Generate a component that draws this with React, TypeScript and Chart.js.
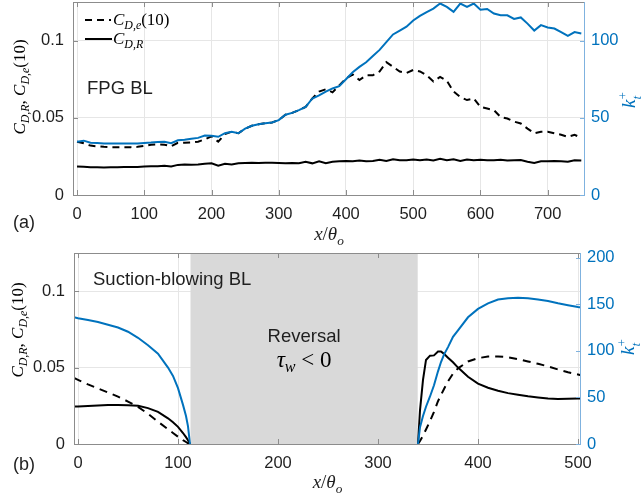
import React, { useEffect, useRef } from "react";
import { Chart, registerables } from "chart.js";
Chart.register(...registerables);

const SERIF = '"Liberation Serif", "DejaVu Serif", serif';
const SANS = '"Liberation Sans", Arial, sans-serif';
const BLUE = "#0072BD";
const TXT = "#1f1f1f";
const GRID = "#e6e6e6";
const AXIS = "#8c8c8c";
const AXIS_R = "#7fb2df";

// ---------- Panel (a): FPG BL ----------
const xA = [0, 10, 20, 30, 40, 50, 60, 70, 80, 90, 100, 110, 120, 130, 140, 150, 160, 170, 180, 190, 200, 210, 220, 230, 240, 250, 260, 270, 280, 290, 300, 310, 320, 330, 340, 350, 360, 370, 380, 390, 400, 410, 420, 430, 440, 450, 460, 470, 480, 490, 500, 510, 520, 530, 540, 550, 560, 570, 580, 590, 600, 610, 620, 630, 640, 650, 660, 670, 680, 690, 700, 710, 720, 730, 740, 750];
const ktA = [34.5, 35.2, 33.8, 33.6, 33.4, 33.4, 33.4, 33.4, 33.4, 33.4, 33.7, 34, 34.4, 34.5, 33.6, 35.4, 35.8, 36.5, 37, 38.5, 38.3, 37.7, 40, 41, 40, 43, 44.8, 45.8, 46.5, 47, 48.5, 52, 53.2, 55, 57, 62.5, 64.5, 67, 69, 70.5, 75, 79.5, 83, 86, 90, 94, 99, 104, 106.5, 109, 113, 116, 118.5, 120.7, 124, 121.8, 118.6, 124, 121.8, 124, 120, 120.5, 117.5, 116.4, 116.4, 114, 115, 111, 106.5, 110, 108.5, 107.8, 105.5, 103, 105.5, 104.6];
const cdeA = [0.0345, 0.0335, 0.032, 0.0315, 0.0312, 0.031, 0.031, 0.031, 0.031, 0.0312, 0.0318, 0.0326, 0.0328, 0.0326, 0.0315, 0.0338, 0.0338, 0.034, 0.0345, 0.036, 0.038, 0.0345, 0.0395, 0.041, 0.04, 0.043, 0.0448, 0.0458, 0.0465, 0.047, 0.0485, 0.052, 0.0532, 0.055, 0.057, 0.0625, 0.067, 0.0685, 0.0665, 0.071, 0.0755, 0.078, 0.0745, 0.0775, 0.0775, 0.08, 0.086, 0.083, 0.08, 0.079, 0.081, 0.08, 0.0775, 0.0735, 0.0765, 0.074, 0.067, 0.0635, 0.0615, 0.0625, 0.057, 0.056, 0.055, 0.0505, 0.0495, 0.0475, 0.0463, 0.043, 0.04, 0.041, 0.041, 0.04, 0.039, 0.0377, 0.039, 0.037];
const cdrA = [0.0185, 0.0183, 0.018, 0.0179, 0.0178, 0.018, 0.018, 0.0181, 0.0182, 0.0182, 0.0185, 0.0186, 0.0187, 0.019, 0.0185, 0.0195, 0.0197, 0.0196, 0.0198, 0.0203, 0.0205, 0.019, 0.0202, 0.0198, 0.0205, 0.0208, 0.0209, 0.0208, 0.0209, 0.0209, 0.0208, 0.0205, 0.0208, 0.0206, 0.0215, 0.0205, 0.0218, 0.0206, 0.0215, 0.0218, 0.022, 0.0218, 0.0223, 0.0218, 0.022, 0.0228, 0.022, 0.0232, 0.0225, 0.0225, 0.023, 0.0225, 0.023, 0.0223, 0.0235, 0.0225, 0.0232, 0.022, 0.023, 0.0225, 0.0228, 0.0225, 0.0225, 0.0228, 0.0223, 0.0225, 0.0226, 0.0215, 0.0208, 0.0218, 0.0218, 0.022, 0.0218, 0.0215, 0.0225, 0.0223];
const xTicksA = [0, 100, 200, 300, 400, 500, 600, 700];
const yTicksLeft = [0, 0.05, 0.1];
const yTicksRightA = [0, 50, 100];

// ---------- Panel (b): Suction-blowing BL ----------
const xB = [-4, 0, 10, 20, 30, 40, 50, 60, 70, 80, 90, 95, 100, 105, 108, 110, 112, 226, 340, 342, 345, 348, 352, 356, 360, 363, 366, 370, 375, 380, 390, 400, 410, 420, 430, 440, 450, 460, 470, 480, 490, 500, 503];
const ktB = [136, 135, 133, 131, 128, 125, 120.5, 114, 106, 97, 82, 73, 60, 42, 30, 19, 0, null, 0, 18, 30, 40, 51, 63, 78, 88, 96, 104, 115, 122, 136, 145, 151, 155, 156.5, 157, 156.5, 155, 153.5, 151, 149, 147, 146.5];
const cdrB = [0.0245, 0.0245, 0.0248, 0.0252, 0.0256, 0.0256, 0.0254, 0.025, 0.0235, 0.021, 0.0168, 0.0142, 0.0112, 0.0072, 0.0045, 0.0025, 0, null, 0, 0.022, 0.042, 0.055, 0.0578, 0.058, 0.0605, 0.0605, 0.059, 0.0565, 0.0535, 0.05, 0.044, 0.0395, 0.0368, 0.0348, 0.0333, 0.0322, 0.0312, 0.0305, 0.0298, 0.0295, 0.0296, 0.0298, 0.0298];
const cdeB = [0.0432, 0.042, 0.039, 0.0363, 0.0337, 0.031, 0.0278, 0.0243, 0.0198, 0.0146, 0.0097, 0.0072, 0.0048, 0.0025, 0.0013, 0.0005, 0, null, 0, 0.002, 0.0055, 0.0095, 0.015, 0.021, 0.028, 0.032, 0.036, 0.041, 0.046, 0.0495, 0.054, 0.0562, 0.0572, 0.0573, 0.0568, 0.0555, 0.054, 0.0525, 0.0508, 0.0488, 0.047, 0.0455, 0.045];
const reversalRange = [112.5, 339.7];
const xTicksB = [0, 100, 200, 300, 400, 500];
const yTicksRightB = [0, 50, 100, 150, 200];

type Seg = { t: string; it?: boolean; s?: number; dy?: number; na?: boolean };

function drawRich(ctx: CanvasRenderingContext2D, segs: Seg[], x: number, y: number, size: number, color: string, rot = 0, align: "center" | "left" = "center") {
  ctx.save();
  ctx.translate(x, y);
  ctx.rotate(rot);
  ctx.fillStyle = color;
  ctx.textBaseline = "alphabetic";
  ctx.textAlign = "left";
  const font = (sg: Seg) => `${sg.it ? "italic " : ""}${size * (sg.s ?? 1)}px ${SERIF}`;
  let W = 0;
  for (const sg of segs) {
    ctx.font = font(sg);
    if (!sg.na) W += ctx.measureText(sg.t).width;
  }
  let cx = align === "center" ? -W / 2 : 0;
  const base = size * 0.33;
  for (const sg of segs) {
    ctx.font = font(sg);
    ctx.fillText(sg.t, cx, base + (sg.dy ?? 0) * size);
    if (!sg.na) cx += ctx.measureText(sg.t).width;
  }
  ctx.restore();
}

function drawSans(ctx: CanvasRenderingContext2D, t: string, x: number, y: number, size: number, align: CanvasTextAlign = "left") {
  ctx.save();
  ctx.font = `${size}px ${SANS}`;
  ctx.fillStyle = TXT;
  ctx.textAlign = align;
  ctx.textBaseline = "middle";
  ctx.fillText(t, x, y);
  ctx.restore();
}

function drawFrame(chart: any, xt: number[], ylt: number[], yrt: number[]) {
  const { ctx, chartArea: a, scales } = chart;
  ctx.save();
  ctx.lineWidth = 1;
  ctx.setLineDash([]);
  ctx.strokeStyle = AXIS;
  ctx.beginPath();
  ctx.moveTo(a.left, a.top + 0.5);
  ctx.lineTo(a.right, a.top + 0.5);
  ctx.moveTo(a.left + 0.5, a.top);
  ctx.lineTo(a.left + 0.5, a.bottom);
  ctx.moveTo(a.left, a.bottom + 0.5);
  ctx.lineTo(a.right, a.bottom + 0.5);
  for (const v of xt) {
    const px = Math.round(scales.x.getPixelForValue(v)) + 0.5;
    ctx.moveTo(px, a.bottom);
    ctx.lineTo(px, a.bottom - 5);
    ctx.moveTo(px, a.top);
    ctx.lineTo(px, a.top + 5);
  }
  for (const v of ylt) {
    const py = Math.round(scales.y.getPixelForValue(v)) + 0.5;
    ctx.moveTo(a.left, py);
    ctx.lineTo(a.left + 5, py);
  }
  ctx.stroke();
  ctx.strokeStyle = AXIS_R;
  ctx.beginPath();
  ctx.moveTo(a.right - 0.5, a.top);
  ctx.lineTo(a.right - 0.5, a.bottom + 1);
  for (const v of yrt) {
    const py = Math.round(scales.y2.getPixelForValue(v)) + 0.5;
    ctx.moveTo(a.right, py);
    ctx.lineTo(a.right - 5, py);
  }
  ctx.stroke();
  ctx.restore();
}

const leftTitle: Seg[] = [
  { t: "C", it: true },
  { t: "D,R", it: true, s: 0.7, dy: 0.25 },
  { t: ", " },
  { t: "C", it: true },
  { t: "D,e", it: true, s: 0.7, dy: 0.25 },
  { t: "(10)" },
];
const rightTitle: Seg[] = [
  { t: "k", it: true },
  { t: "t", it: true, s: 0.7, dy: 0.3, na: true },
  { t: "+", s: 0.7, dy: -0.45 },
];
const xTitle: Seg[] = [
  { t: "x", it: true },
  { t: "/" },
  { t: "θ", it: true },
  { t: "o", it: true, s: 0.7, dy: 0.25 },
];

const tickFont = { family: SANS, size: 16.5 };

function zeroPad(s: any) {
  s.paddingTop = 0;
  s.paddingBottom = 0;
  s.paddingLeft = 0;
  s.paddingRight = 0;
}

function makeScales(xmin: number, xmax: number, xt: number[], yrMax: number, yrt: number[], xH: number, yLW: number, yRW: number) {
  return {
    x: {
      type: "linear",
      min: xmin,
      max: xmax,
      afterBuildTicks: (s: any) => { s.ticks = xt.map((v) => ({ value: v })); },
      afterFit: (s: any) => { s.height = xH; zeroPad(s); },
      grid: { color: GRID, drawTicks: false },
      border: { display: false },
      ticks: { autoSkip: false, maxRotation: 0, padding: 10, font: tickFont, color: TXT, callback: (v: any) => String(v) },
    },
    y: {
      position: "left",
      min: 0,
      max: 0.125,
      afterBuildTicks: (s: any) => { s.ticks = yTicksLeft.map((v) => ({ value: v })); },
      afterFit: (s: any) => { s.width = yLW; zeroPad(s); },
      grid: { color: GRID, drawTicks: false },
      border: { display: false },
      ticks: { autoSkip: false, padding: 9, font: tickFont, color: TXT, callback: (v: any) => String(v) },
    },
    y2: {
      position: "right",
      min: 0,
      max: yrMax,
      afterBuildTicks: (s: any) => { s.ticks = yrt.map((v) => ({ value: v })); },
      afterFit: (s: any) => { s.width = yRW; zeroPad(s); },
      grid: { display: false, drawTicks: false },
      border: { display: false },
      ticks: { autoSkip: false, padding: 6, font: tickFont, color: BLUE, callback: (v: any) => String(v) },
    },
  };
}

function zip(xs: number[], ys: (number | null)[]) {
  return xs.map((x, i) => ({ x, y: ys[i] }));
}

const H_A = 250;
const H_B = 249;

function configA(): any {
  const plugin = {
    id: "decorA",
    afterDraw(chart: any) {
      const ctx = chart.ctx as CanvasRenderingContext2D;
      const a = chart.chartArea;
      drawFrame(chart, xTicksA, yTicksLeft, yTicksRightA);
      // legend
      ctx.save();
      ctx.strokeStyle = "#000";
      ctx.lineWidth = 2;
      ctx.setLineDash([7, 5]);
      ctx.beginPath();
      ctx.moveTo(85, 20);
      ctx.lineTo(111, 20);
      ctx.stroke();
      ctx.setLineDash([]);
      ctx.beginPath();
      ctx.moveTo(85, 39);
      ctx.lineTo(112, 39);
      ctx.stroke();
      ctx.restore();
      drawRich(ctx, [{ t: "C", it: true }, { t: "D,e", it: true, s: 0.7, dy: 0.25 }, { t: "(10)" }], 113, 19, 17, "#000", 0, "left");
      drawRich(ctx, [{ t: "C", it: true }, { t: "D,R", it: true, s: 0.7, dy: 0.25 }], 113, 38, 17, "#000", 0, "left");
      drawSans(ctx, "FPG BL", 87, 89, 18.5);
      drawSans(ctx, "(a)", 13, 223, 18);
      drawRich(ctx, leftTitle, 19, 87, 17, "#000", -Math.PI / 2);
      drawRich(ctx, rightTitle, 629, 100, 19, BLUE, -Math.PI / 2);
      drawRich(ctx, xTitle, (a.left + a.right) / 2, 234, 19, TXT);
    },
  };
  return {
    type: "line",
    data: {
      datasets: [
        { data: zip(xA, ktA), yAxisID: "y2", borderColor: BLUE, borderWidth: 2, pointRadius: 0 },
        { data: zip(xA, cdeA), yAxisID: "y", borderColor: "#000", borderDash: [7, 5], borderWidth: 2, pointRadius: 0 },
        { data: zip(xA, cdrA), yAxisID: "y", borderColor: "#000", borderWidth: 2, pointRadius: 0 },
      ],
    },
    options: {
      responsive: false,
      animation: false,
      events: [],
      layout: { padding: { top: 2, left: 0, right: 0, bottom: 0 } },
      plugins: { legend: { display: false }, tooltip: { enabled: false } },
      scales: makeScales(-6, 755.5, xTicksA, 125, yTicksRightA, H_A - 195, 73, 57),
    },
    plugins: [plugin],
  };
}

function configB(): any {
  const off = H_A;
  const plugin = {
    id: "decorB",
    beforeDatasetsDraw(chart: any) {
      const ctx = chart.ctx as CanvasRenderingContext2D;
      const a = chart.chartArea;
      const x0 = chart.scales.x.getPixelForValue(reversalRange[0]);
      const x1 = chart.scales.x.getPixelForValue(reversalRange[1]);
      ctx.save();
      ctx.fillStyle = "#d9d9d9";
      ctx.fillRect(x0, a.top, x1 - x0, a.bottom - a.top);
      ctx.restore();
    },
    afterDraw(chart: any) {
      const ctx = chart.ctx as CanvasRenderingContext2D;
      const a = chart.chartArea;
      drawFrame(chart, xTicksB, yTicksLeft, yTicksRightB);
      const xc = (chart.scales.x.getPixelForValue(reversalRange[0]) + chart.scales.x.getPixelForValue(reversalRange[1])) / 2;
      drawSans(ctx, "Suction-blowing BL", 93, 280 - off, 18.5);
      drawSans(ctx, "Reversal", xc, 337 - off, 18.5, "center");
      drawRich(ctx, [{ t: "τ", it: true }, { t: "w", it: true, s: 0.7, dy: 0.25 }, { t: " < 0" }], xc, 359 - off, 23, "#000");
      drawSans(ctx, "(b)", 13, 465 - off, 18);
      drawRich(ctx, leftTitle, 17, 330 - off, 17, "#000", -Math.PI / 2);
      drawRich(ctx, rightTitle, 628, 347 - off, 19, BLUE, -Math.PI / 2);
      drawRich(ctx, xTitle, (a.left + a.right) / 2, 482 - off, 19, TXT);
    },
  };
  return {
    type: "line",
    data: {
      datasets: [
        { data: zip(xB, ktB), yAxisID: "y2", borderColor: BLUE, borderWidth: 2, pointRadius: 0, spanGaps: false },
        { data: zip(xB, cdeB), yAxisID: "y", borderColor: "#000", borderDash: [8, 6], borderWidth: 2, pointRadius: 0, spanGaps: false },
        { data: zip(xB, cdrB), yAxisID: "y", borderColor: "#000", borderWidth: 2, pointRadius: 0, spanGaps: false },
      ],
    },
    options: {
      responsive: false,
      animation: false,
      events: [],
      layout: { padding: { top: 253 - off, left: 0, right: 0, bottom: 0 } },
      plugins: { legend: { display: false }, tooltip: { enabled: false } },
      scales: makeScales(-4, 503, xTicksB, 205, yTicksRightB, H_B - (444 - off), 74, 61),
    },
    plugins: [plugin],
  };
}

function Panel({ make, top, height }: { make: () => any; top: number; height: number }) {
  const ref = useRef<HTMLCanvasElement>(null);
  useEffect(() => {
    const c = new Chart(ref.current as HTMLCanvasElement, make());
    return () => c.destroy();
  }, []);
  return (
    <canvas
      ref={ref}
      width={642}
      height={height}
      style={{ position: "absolute", left: 0, top, width: 642, height, display: "block" }}
    />
  );
}

export default function App() {
  return (
    <div style={{ position: "absolute", left: 0, top: 0, width: 642, height: 499, background: "#fff", overflow: "hidden" }}>
      <Panel make={configA} top={0} height={H_A} />
      <Panel make={configB} top={H_A} height={H_B} />
    </div>
  );
}
